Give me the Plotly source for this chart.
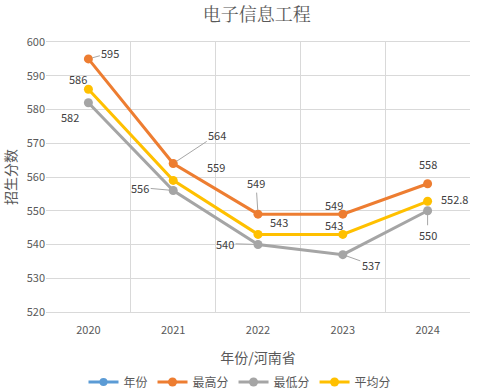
import plotly.graph_objects as go

years = ["2020", "2021", "2022", "2023", "2024"]
max_scores = [595, 564, 549, 549, 558]
min_scores = [582, 556, 540, 537, 550]
avg_scores = [586, 559, 543, 543, 552.8]
y_ticks = [520, 530, 540, 550, 560, 570, 580, 590, 600]

c_blue = "#5B9BD5"
c_orange = "#ED7D31"
c_gray = "#A5A5A5"
c_yellow = "#FFC000"
txt = "#595959"
font_fam = "Noto Sans CJK SC, Noto Sans, sans-serif"

fig = go.Figure()
fig.add_trace(go.Scatter(x=years, y=[None] * 5, name="年份", mode="lines+markers",
                         line=dict(color=c_blue, width=3), marker=dict(size=8, color=c_blue)))
fig.add_trace(go.Scatter(x=years, y=max_scores, name="最高分", mode="lines+markers",
                         line=dict(color=c_orange, width=3), marker=dict(size=9, color=c_orange)))
fig.add_trace(go.Scatter(x=years, y=min_scores, name="最低分", mode="lines+markers",
                         line=dict(color=c_gray, width=3), marker=dict(size=9, color=c_gray)))
fig.add_trace(go.Scatter(x=years, y=avg_scores, name="平均分", mode="lines+markers",
                         line=dict(color=c_yellow, width=3), marker=dict(size=9, color=c_yellow)))

# label offsets (pixels) and whether a leader line is drawn
max_off = [(22, -6, True), (44, -29, True), (-2, -31, True), (-9, -9, False), (0, -20, False)]
avg_off = [(-10, -10, False), (43, -13, False), (21, -12, False), (-9, -9, False), (27, -2, False)]
min_off = [(-18, 14, False), (-33, -3, True), (-33, -1, True), (28, 10, True), (0, 24, True)]

annotations = []
for series, offs in ((max_scores, max_off), (avg_scores, avg_off), (min_scores, min_off)):
    for i, (yv, (ax, ay, lead)) in enumerate(zip(series, offs)):
        annotations.append(dict(
            x=i, y=yv, xref="x", yref="y", text=str(yv),
            showarrow=True, ax=ax, ay=ay,
            arrowhead=0, arrowwidth=1,
            arrowcolor="#A6A6A6" if lead else "rgba(0,0,0,0)",
            standoff=4,
            font=dict(size=11, color="#404040", family=font_fam),
        ))

fig.update_layout(
    width=480, height=392,
    margin=dict(l=46, r=10, t=42, b=80, autoexpand=False),
    paper_bgcolor="white", plot_bgcolor="white",
    font=dict(family=font_fam, color=txt, size=11),
    title=dict(text="电子信息工程", x=0.535, xanchor="center", y=0.963, yanchor="middle",
               font=dict(size=18, color=txt, family="Noto Serif CJK SC, Noto Sans CJK SC, serif")),
    showlegend=True,
    legend=dict(orientation="h", x=0.5, xanchor="center", xref="container",
                y=10 / 392, yanchor="middle", yref="container",
                font=dict(size=12, color=txt), itemwidth=30, tracegroupgap=0),
    annotations=annotations,
)
fig.update_xaxes(type="category", range=[-0.5, 4.5], tickson="boundaries", automargin=False,
                 showgrid=True, gridcolor="#D9D9D9", gridwidth=1,
                 showline=True, linecolor="#D9D9D9", mirror=True,
                 ticks="", tickfont=dict(size=11, color=txt), ticklabelstandoff=8,
                 title=dict(text="年份/河南省", font=dict(size=14, color=txt), standoff=16))
fig.update_yaxes(range=[520, 600], tickvals=y_ticks, showgrid=True, gridcolor="#D9D9D9",
                 automargin=False,
                 gridwidth=1, zeroline=False, showline=False, ticks="",
                 tickfont=dict(size=11, color=txt),
                 title=dict(text="招生分数", font=dict(size=14, color=txt), standoff=6))

fig.write_html("out.html", config={"displayModeBar": False},
               post_script="document.body.style.margin='0';document.body.style.padding='0';")
